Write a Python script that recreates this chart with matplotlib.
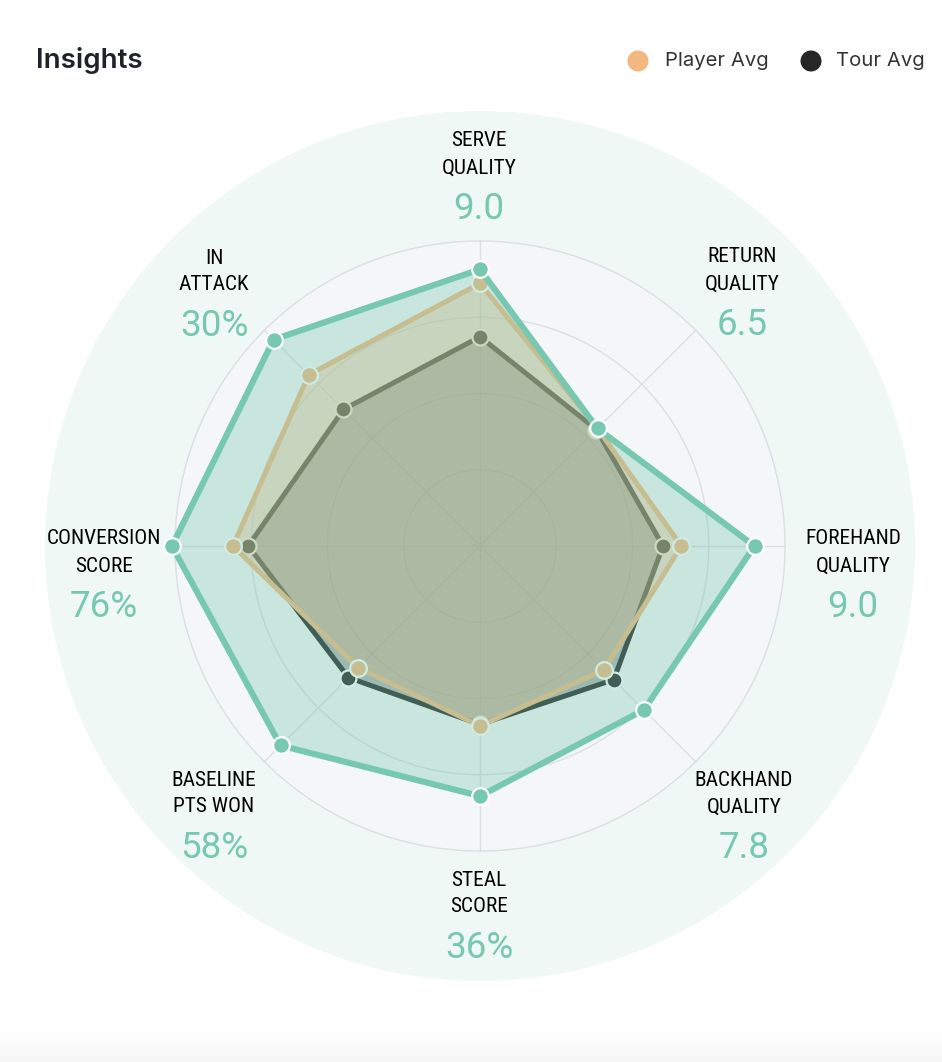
import numpy as np
import matplotlib
matplotlib.use("Agg")
import matplotlib.pyplot as plt
from matplotlib.patches import Circle
from matplotlib import font_manager

# ---------------- data ----------------
categories = ["SERVE\nQUALITY", "RETURN\nQUALITY", "FOREHAND\nQUALITY", "BACKHAND\nQUALITY",
              "STEAL\nSCORE", "BASELINE\nPTS WON", "CONVERSION\nSCORE", "IN\nATTACK"]
display_values = ["9.0", "6.5", "9.0", "7.8", "36%", "58%", "76%", "30%"]
player_score = [0.907, 0.545, 0.900, 0.760, 0.820, 0.925, 1.010, 0.957]
player_avg = [0.861, 0.545, 0.660, 0.575, 0.590, 0.565, 0.810, 0.794]
tour_avg = [0.686, 0.540, 0.600, 0.620, 0.585, 0.610, 0.760, 0.633]
ring_levels = [0.25, 0.5, 0.75, 1.0]
legend_labels = ["Player Avg", "Tour Avg"]

# ---------------- fonts ----------------
names = {f.name for f in font_manager.fontManager.ttflist}
if "Roboto Condensed" in names:
    label_font = "Roboto Condensed"
elif "Liberation Sans Narrow" in names:
    label_font = "Liberation Sans Narrow"
else:
    label_font = "Roboto"
value_font = "Roboto" if "Roboto" in names else "DejaVu Sans"
ui_font = "Inter" if "Inter" in names else "DejaVu Sans"

# ---------------- layout ----------------
W, H = 942, 1062
fig = plt.figure(figsize=(W / 100, H / 100), dpi=100)
fig.patch.set_facecolor("white")

cx, cy = 480, 546
R_out, R_unit = 435, 305
rmax = R_out / R_unit

ax = fig.add_axes([(cx - R_out) / W, (H - cy - R_out) / H, 2 * R_out / W, 2 * R_out / H],
                  projection="polar")
ax.set_theta_zero_location("N")
ax.set_theta_direction(-1)
ax.set_ylim(0, rmax)
ax.set_facecolor("#eff8f5")
ax.spines["polar"].set_visible(False)
ax.grid(False)
ax.set_xticks([])
ax.set_yticks([])

n = len(categories)
theta = np.linspace(0, 2 * np.pi, n, endpoint=False)
tt = np.linspace(0, 2 * np.pi, 721)

# inner grey disk
ax.fill_between(tt, 0, 1.0, color="#f4f6f8", lw=0, zorder=0.5)
for r in ring_levels:
    ax.plot(tt, np.full_like(tt, r), color="#dcdfe3", lw=1.0, zorder=0.8)
for t in theta:
    ax.plot([t, t], [0, 1.0], color="#dcdfe3", lw=1.0, zorder=0.8)


def draw_series(vals, color, alpha, lw, ms, z):
    t = np.append(theta, theta[0])
    v = np.append(vals, vals[0])
    ax.fill(t, v, color=color, alpha=alpha, lw=0, zorder=z)
    ax.plot(t, v, color=color, lw=lw, zorder=z + 0.1, solid_joinstyle="round")
    ax.plot(theta, vals, "o", ms=ms, mfc=color, mec="white", mew=1.6, zorder=z + 0.2)


draw_series(tour_avg, "#262626", 0.33, 3.6, 11.5, 2)
draw_series(player_avg, "#f2b880", 0.40, 3.6, 12, 3)
draw_series(player_score, "#76c8b0", 0.35, 4.4, 12, 4)

# ---------------- overlay for text ----------------
ov = fig.add_axes([0, 0, 1, 1])
ov.set_xlim(0, W)
ov.set_ylim(H, 0)
ov.axis("off")

label_pos = [(479, 141), (742, 257), (853, 539), (744, 780),
             (479, 880), (214, 780), (104, 539), (214, 258)]
for (x, y), cat, val in zip(label_pos, categories, display_values):
    l1, l2 = cat.split("\n")
    ov.text(x, y, l1, family=label_font, fontsize=15.4, fontweight="normal",
            color="#000000", ha="center", va="center")
    ov.text(x, y + 27, l2, family=label_font, fontsize=15.4, fontweight="normal",
            color="#000000", ha="center", va="center")
    ov.text(x, y + 68, val, family=value_font, fontsize=26.5, color="#76c8b0",
            ha="center", va="center")

# title
ov.text(36, 61, "Insights", family=ui_font, fontsize=20, fontweight="semibold",
        color="#1f2228", ha="left", va="center")

# legend
ov.add_patch(Circle((638, 61), 10.5, color="#f2b880", lw=0))
ov.text(665, 61, legend_labels[0], family=ui_font, fontsize=14.6, color="#333333",
        ha="left", va="center")
ov.add_patch(Circle((811, 61), 10.5, color="#262626", lw=0))
ov.text(836, 61, legend_labels[1], family=ui_font, fontsize=14.6, color="#333333",
        ha="left", va="center")

# faint bottom shadow
grad = np.linspace(1.0, 0.965, 30).reshape(-1, 1)
ov.imshow(np.dstack([grad, grad, grad]), extent=[0, W, H, H - 30], aspect="auto",
          zorder=0.1)
ov.set_xlim(0, W)
ov.set_ylim(H, 0)

fig.savefig("out.png", dpi=100, facecolor="white")
